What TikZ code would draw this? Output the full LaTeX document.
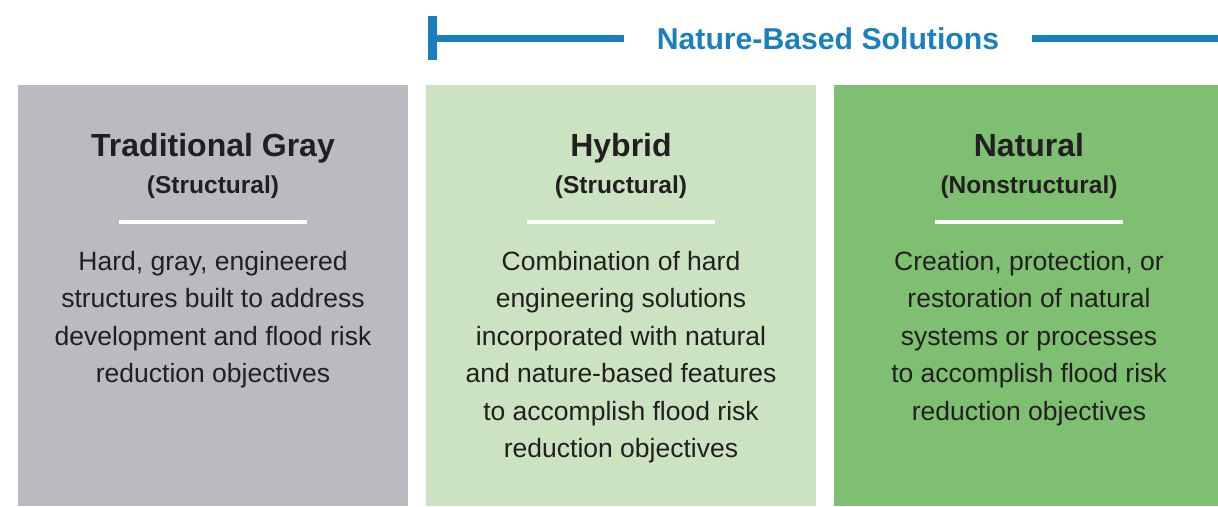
\documentclass[tikz,border=0pt]{standalone}
\usepackage{fontspec}
\setmainfont{Liberation Sans}
\usepackage{xcolor}
\definecolor{ColGray}{RGB}{187,186,192}
\definecolor{ColHybrid}{RGB}{204,227,194}
\definecolor{ColNatural}{RGB}{127,191,114}
\definecolor{ColBlue}{RGB}{26,128,189}
\definecolor{ColText}{RGB}{35,31,32}
\usepackage{tikz}
\tikzstyle{Panel}=[rectangle,inner sep=0pt,minimum height=421pt]
\tikzstyle{Head}=[anchor=base,inner sep=0pt,text=ColText,
font=\fontsize{32}{38}\selectfont\bfseries]
\tikzstyle{SubHead}=[anchor=base,inner sep=0pt,text=ColText,
font=\fontsize{24.5}{30}\selectfont\bfseries]
\tikzstyle{Body}=[anchor=base,inner sep=0pt,align=center,text=ColText,
font=\fontsize{26.5}{37.5}\selectfont]
\tikzstyle{Rule}=[draw=white,line width=3.5pt]
\tikzstyle{Banner}=[anchor=base,inner ysep=0pt,inner xsep=33pt,text=ColBlue,
font=\fontsize{30.2}{36}\selectfont\bfseries]
\tikzstyle{Bar}=[draw=ColBlue,line width=7pt]

\begin{document}
\begin{tikzpicture}[x=1pt,y=-1pt]
            \useasboundingbox(0,0)rectangle(1218,506);
            \node[Panel,fill=ColGray,minimum width=390pt](p1)at(213,295.5){};
            \node[Panel,fill=ColHybrid,minimum width=390pt](p2)at(621,295.5){};
            \node[Panel,fill=ColNatural,minimum width=384pt](p3)at(1026,295.5){};
            \node[Head](h1)at(213,156){Traditional Gray};
            \node[Head](h2)at(621,156){Hybrid};
            \node[Head](h3)at(1029,156){Natural};
            \node[SubHead](s1)at(213,193){(Structural)};
            \node[SubHead](s2)at(621,193){(Structural)};
            \node[SubHead](s3)at(1029,193){(Nonstructural)};
            \draw[Rule](119,222)--(307,222);
            \draw[Rule](527,222)--(715,222);
            \draw[Rule](935,222)--(1123,222);
            % body text sits on the baseline of its last line
            \node[Body](b1)at(213,382.5){Hard, gray, engineered\\
                structures built to address\\
                development and flood risk\\
                reduction objectives};
            \node[Body](b2)at(621,457.5){Combination of hard\\
                engineering solutions\\
                incorporated with natural\\
                and nature-based features\\
                to accomplish flood risk\\
                reduction objectives};
            \node[Body](b3)at(1029,420){Creation, protection, or\\
                restoration of natural\\
                systems or processes\\
                to accomplish flood risk\\
                reduction objectives};
            \node[Banner](nbs)at(828,49){Nature-Based Solutions};
            \coordinate(t)at(432.5,16);
            \coordinate(b)at(432.5,60);
            \coordinate(l)at(432.5,38.5);
            \coordinate(r)at(1218,38.5);
            \draw[Bar,line width=9pt](t)--(b);
            \draw[Bar](l)--(l-|nbs.west);
            \draw[Bar](r-|nbs.east)--(r);
        \end{tikzpicture}
\end{document}
